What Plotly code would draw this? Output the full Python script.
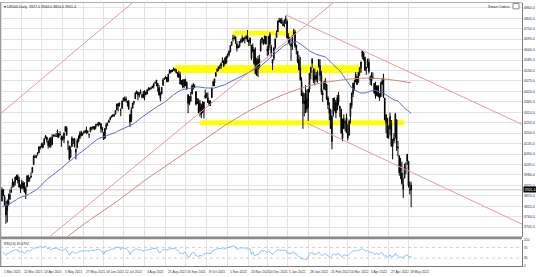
import numpy as np
import pandas as pd
import plotly.graph_objects as go

# ---------------- data ----------------
holidays = ["2021-04-02", "2021-05-31", "2021-07-05", "2021-09-06", "2021-11-25",
            "2021-12-24", "2022-01-17", "2022-02-21", "2022-04-15"]
dates = [d for d in pd.bdate_range("2021-03-01", "2022-05-20")
         if d.strftime("%Y-%m-%d") not in holidays]

opens = [
    3842, 3903, 3864, 3818, 3793, 3844, 3851, 3891, 3916, 3924, 3942, 3974, 3949, 3953, 3913, 3916, 3937, 3919, 3879, 3917, 3969, 3963, 3967,
    3992, 4034, 4075, 4074, 4089, 4097, 4124, 4130, 4141, 4140, 4175, 4179, 4159, 4128, 4170, 4139, 4185, 4188, 4185, 4206, 4199,
    4191, 4179, 4178, 4170, 4210, 4229, 4150, 4131, 4074, 4129, 4169, 4170, 4099, 4122, 4169, 4171, 4205, 4191, 4201, 4210,
    4216, 4206, 4191, 4207, 4229, 4234, 4233, 4229, 4243, 4248, 4255, 4249, 4216, 4204, 4173, 4224, 4243, 4256, 4274, 4285, 4293, 4290,
    4300, 4322, 4356, 4351, 4321, 4330, 4373, 4382, 4381, 4369, 4367, 4297, 4266, 4331, 4361, 4381, 4409, 4416, 4403, 4407, 4396,
    4406, 4392, 4416, 4408, 4429, 4437, 4437, 4442, 4447, 4465, 4461, 4462, 4440, 4383, 4406, 4451, 4484, 4490, 4493, 4474, 4514, 4530,
    4529, 4534, 4532, 4535, 4518, 4513, 4506, 4475, 4479, 4447, 4477, 4469, 4403, 4374, 4367, 4406, 4439, 4443, 4419, 4362, 4371,
    4317, 4348, 4310, 4320, 4384, 4407, 4386, 4368, 4358, 4387, 4448, 4464, 4498, 4525, 4533, 4547, 4553, 4579, 4580, 4563, 4572,
    4610, 4613, 4630, 4662, 4700, 4702, 4707, 4670, 4659, 4656, 4689, 4679, 4701, 4700, 4708, 4712, 4679, 4675, 4664, 4629, 4640,
    4602, 4504, 4589, 4548, 4632, 4690, 4691, 4687, 4710, 4642, 4637, 4720, 4653, 4587, 4594, 4650, 4703, 4733, 4795, 4788, 4795, 4776,
    4779, 4804, 4788, 4693, 4697, 4656, 4670, 4729, 4734, 4638, 4632, 4588, 4547, 4471, 4357, 4367, 4409, 4381, 4337, 4432,
    4519, 4567, 4535, 4482, 4505, 4480, 4548, 4554, 4506, 4412, 4430, 4456, 4456, 4385, 4332, 4324, 4155, 4298, 4354,
    4364, 4322, 4401, 4342, 4327, 4202, 4223, 4253, 4280, 4202, 4189, 4288, 4346, 4407, 4462, 4469, 4494, 4469, 4522, 4541, 4603, 4624, 4600,
    4540, 4547, 4573, 4495, 4475, 4494, 4462, 4437, 4398, 4449, 4385, 4391, 4473, 4490, 4385, 4255, 4278, 4186, 4222, 4254,
    4130, 4159, 4181, 4271, 4128, 4081, 4035, 3990, 3903, 3963, 4013, 4053, 4052, 3900, 3927,
]
highs = [
    3914, 3906, 3874, 3843, 3851, 3881, 3903, 3917, 3960, 3944, 3970, 3981, 3983, 3970, 3930, 3955, 3949, 3942, 3919, 3978, 3981, 3968, 3994,
    4021, 4084, 4087, 4084, 4098, 4129, 4131, 4149, 4151, 4173, 4191, 4180, 4160, 4175, 4180, 4194, 4194, 4193, 4201, 4219, 4199,
    4210, 4187, 4187, 4202, 4238, 4236, 4163, 4135, 4131, 4183, 4171, 4175, 4119, 4173, 4188, 4210, 4213, 4203, 4213, 4218,
    4234, 4215, 4197, 4234, 4232, 4237, 4238, 4249, 4248, 4256, 4258, 4252, 4233, 4204, 4226, 4255, 4256, 4272, 4287, 4293, 4301, 4302,
    4321, 4355, 4357, 4361, 4331, 4372, 4387, 4393, 4393, 4369, 4375, 4301, 4336, 4359, 4369, 4415, 4422, 4416, 4416, 4430, 4407,
    4422, 4424, 4417, 4430, 4441, 4440, 4445, 4449, 4461, 4468, 4480, 4462, 4454, 4418, 4443, 4489, 4493, 4501, 4496, 4513, 4537, 4532,
    4537, 4546, 4542, 4535, 4521, 4529, 4521, 4480, 4485, 4486, 4486, 4471, 4403, 4395, 4416, 4457, 4464, 4457, 4419, 4385, 4382,
    4375, 4356, 4369, 4365, 4429, 4413, 4415, 4375, 4373, 4440, 4476, 4487, 4520, 4540, 4550, 4560, 4572, 4599, 4584, 4598, 4608,
    4620, 4635, 4664, 4683, 4718, 4714, 4709, 4685, 4662, 4685, 4698, 4714, 4701, 4708, 4717, 4743, 4690, 4702, 4664, 4672, 4646,
    4652, 4595, 4608, 4613, 4695, 4705, 4695, 4713, 4711, 4660, 4712, 4731, 4666, 4587, 4651, 4697, 4741, 4792, 4807, 4804, 4808, 4787,
    4797, 4819, 4798, 4726, 4708, 4674, 4714, 4749, 4744, 4665, 4632, 4612, 4602, 4495, 4418, 4411, 4453, 4429, 4432, 4517,
    4546, 4595, 4542, 4540, 4522, 4531, 4590, 4588, 4527, 4426, 4473, 4490, 4457, 4395, 4363, 4327, 4294, 4385, 4388,
    4375, 4401, 4417, 4343, 4327, 4277, 4299, 4268, 4303, 4247, 4272, 4358, 4413, 4466, 4481, 4522, 4501, 4520, 4546, 4576, 4637, 4627, 4603,
    4548, 4593, 4593, 4504, 4521, 4520, 4464, 4471, 4453, 4453, 4411, 4471, 4489, 4513, 4386, 4300, 4278, 4241, 4308, 4269,
    4169, 4200, 4307, 4271, 4158, 4081, 4069, 4050, 3965, 4039, 4047, 4090, 4052, 3946, 3944,
]
lows = [
    3842, 3868, 3818, 3723, 3730, 3819, 3851, 3885, 3916, 3915, 3924, 3953, 3935, 3914, 3885, 3906, 3902, 3889, 3853, 3917, 3943, 3944, 3965,
    3992, 4034, 4069, 4068, 4082, 4095, 4114, 4124, 4120, 4140, 4171, 4150, 4119, 4126, 4123, 4138, 4182, 4181, 4181, 4177, 4174,
    4188, 4128, 4160, 4148, 4207, 4188, 4111, 4057, 4069, 4129, 4143, 4125, 4062, 4122, 4151, 4171, 4182, 4187, 4198, 4203,
    4197, 4198, 4174, 4207, 4216, 4219, 4219, 4220, 4237, 4235, 4241, 4203, 4204, 4164, 4173, 4218, 4241, 4256, 4267, 4281, 4284, 4288,
    4300, 4322, 4314, 4340, 4289, 4330, 4365, 4369, 4362, 4340, 4322, 4233, 4259, 4330, 4350, 4381, 4406, 4373, 4387, 4407, 4384,
    4384, 4373, 4401, 4404, 4424, 4425, 4430, 4436, 4435, 4461, 4447, 4418, 4398, 4368, 4406, 4451, 4482, 4485, 4468, 4470, 4514, 4515,
    4522, 4528, 4524, 4514, 4494, 4493, 4458, 4453, 4436, 4438, 4448, 4427, 4305, 4347, 4367, 4406, 4430, 4437, 4346, 4354, 4306,
    4288, 4279, 4305, 4278, 4384, 4386, 4360, 4342, 4343, 4387, 4448, 4448, 4497, 4524, 4528, 4538, 4538, 4570, 4551, 4563, 4566,
    4595, 4604, 4624, 4662, 4681, 4694, 4670, 4630, 4648, 4651, 4673, 4679, 4684, 4672, 4694, 4680, 4659, 4660, 4585, 4626, 4560,
    4511, 4504, 4495, 4541, 4632, 4674, 4666, 4671, 4667, 4606, 4612, 4651, 4600, 4532, 4583, 4644, 4703, 4733, 4781, 4778, 4775, 4765,
    4758, 4775, 4699, 4671, 4663, 4582, 4638, 4716, 4650, 4614, 4568, 4533, 4474, 4395, 4223, 4288, 4305, 4309, 4264, 4414,
    4483, 4544, 4464, 4451, 4471, 4465, 4548, 4475, 4402, 4365, 4430, 4425, 4374, 4327, 4268, 4222, 4115, 4287, 4315,
    4279, 4322, 4345, 4284, 4199, 4157, 4223, 4209, 4200, 4161, 4187, 4251, 4330, 4390, 4424, 4469, 4455, 4466, 4502, 4518, 4589, 4581, 4530,
    4507, 4546, 4514, 4453, 4450, 4487, 4408, 4382, 4395, 4392, 4370, 4391, 4455, 4385, 4267, 4200, 4175, 4170, 4189, 4128,
    4062, 4147, 4171, 4107, 4078, 3976, 3958, 3929, 3859, 3963, 3983, 4033, 3914, 3877, 3810,
]
closes = [
    3901.8, 3870.3, 3819.7, 3768.5, 3841.9, 3821.4, 3875.4, 3898.8, 3939.3, 3943.3, 3968.9, 3962.7, 3974.1, 3915.5, 3913.1, 3940.6, 3910.5, 3889.1, 3909.5, 3974.5, 3971.1, 3958.6, 3972.9,
    4019.9, 4077.9, 4073.9, 4080.0, 4097.2, 4128.8, 4128.0, 4141.6, 4124.7, 4170.4, 4185.5, 4163.3, 4134.9, 4173.4, 4135.0, 4180.2, 4187.6, 4186.7, 4183.2, 4211.5, 4181.2,
    4192.7, 4164.7, 4167.6, 4201.6, 4232.6, 4188.4, 4152.1, 4063.0, 4112.5, 4173.9, 4163.3, 4127.8, 4115.7, 4159.1, 4155.9, 4197.1, 4188.1, 4196.0, 4200.9, 4204.1,
    4202.0, 4208.1, 4192.9, 4229.9, 4226.5, 4227.3, 4219.6, 4239.2, 4247.4, 4255.2, 4246.6, 4223.7, 4221.9, 4166.5, 4224.8, 4246.4, 4241.8, 4266.5, 4280.7, 4290.6, 4291.8, 4297.5,
    4319.9, 4352.3, 4343.5, 4358.1, 4320.8, 4369.6, 4384.6, 4369.2, 4374.3, 4360.0, 4327.2, 4258.5, 4323.1, 4358.7, 4367.5, 4411.8, 4422.3, 4401.5, 4400.6, 4419.2, 4395.3,
    4387.2, 4423.2, 4402.7, 4429.1, 4436.5, 4432.4, 4436.8, 4447.7, 4460.8, 4468.0, 4479.7, 4448.1, 4400.3, 4405.8, 4441.7, 4479.5, 4486.2, 4496.2, 4470.0, 4509.4, 4528.8, 4522.7,
    4524.1, 4537.0, 4535.4, 4520.0, 4514.1, 4493.3, 4458.6, 4468.7, 4443.1, 4480.7, 4473.8, 4433.0, 4357.7, 4354.2, 4395.6, 4449.0, 4455.5, 4443.1, 4352.6, 4359.5, 4307.5,
    4357.0, 4300.5, 4345.7, 4363.6, 4399.8, 4391.3, 4361.2, 4350.7, 4363.8, 4438.3, 4471.4, 4486.5, 4519.6, 4536.2, 4549.8, 4544.9, 4566.5, 4574.8, 4551.7, 4596.4, 4605.4,
    4613.7, 4630.7, 4660.6, 4680.1, 4697.5, 4701.7, 4685.3, 4646.7, 4649.3, 4682.9, 4682.8, 4700.9, 4688.7, 4704.5, 4698.0, 4682.9, 4690.7, 4701.5, 4594.6, 4655.3, 4567.0,
    4513.0, 4577.1, 4538.4, 4591.7, 4686.8, 4701.2, 4667.5, 4712.0, 4669.0, 4634.1, 4709.9, 4668.7, 4620.6, 4568.0, 4649.2, 4696.6, 4725.8, 4791.2, 4786.4, 4793.1, 4778.7, 4766.2,
    4796.6, 4793.5, 4700.6, 4696.1, 4677.0, 4670.3, 4713.1, 4726.4, 4659.0, 4662.9, 4577.1, 4532.8, 4482.7, 4397.9, 4410.1, 4356.5, 4349.9, 4326.5, 4431.9, 4515.6,
    4546.5, 4589.4, 4477.4, 4500.5, 4483.9, 4521.5, 4587.2, 4504.1, 4418.6, 4401.7, 4471.1, 4475.0, 4380.3, 4348.9, 4304.8, 4225.5, 4288.7, 4384.7, 4373.9,
    4306.3, 4386.5, 4363.5, 4328.9, 4201.1, 4170.7, 4277.9, 4259.5, 4204.3, 4173.1, 4262.5, 4357.9, 4411.7, 4463.1, 4461.2, 4511.6, 4456.2, 4520.2, 4543.1, 4575.5, 4631.6, 4602.5, 4530.4,
    4545.9, 4582.6, 4525.1, 4481.2, 4500.2, 4488.3, 4412.5, 4397.5, 4446.6, 4392.6, 4391.7, 4462.2, 4459.5, 4393.7, 4271.8, 4296.1, 4175.2, 4184.0, 4287.5, 4131.9,
    4155.4, 4175.5, 4300.2, 4146.9, 4123.3, 3991.2, 4001.1, 3935.2, 3930.1, 4023.9, 4008.0, 4088.9, 3923.7, 3900.8, 3901.4,
]
# closes before the visible window (Dec 2020 - Feb 2021), used only to warm up the indicators
prior_closes = [
    3662.5, 3669.0, 3666.7, 3699.1, 3692.0, 3702.3, 3672.8, 3668.1, 3663.5, 3647.5, 3694.6, 3701.2, 3722.5, 3709.4, 3694.9, 3687.3, 3690.0, 3703.1, 3735.4, 3727.0, 3732.0, 3756.1,
    3700.7, 3726.9, 3748.1, 3803.8, 3824.7, 3799.6, 3801.2, 3809.8, 3795.5, 3768.3, 3798.9, 3851.9, 3853.1, 3841.5, 3855.4, 3849.6, 3750.8, 3787.4, 3714.2,
    3773.9, 3826.3, 3830.2, 3871.7, 3886.8, 3915.6, 3911.2, 3909.9, 3916.4, 3934.8, 3932.6, 3931.3, 3914.0, 3906.7, 3876.5, 3881.4, 3925.4, 3829.3, 3811.2,
]
# 200-period moving average
ma200_dates = ["2021-05-06", "2021-06-04", "2021-07-06", "2021-08-03", "2021-09-01", "2021-10-01",
               "2021-11-01", "2021-12-01", "2022-01-03", "2022-02-01", "2022-03-01", "2022-04-01",
               "2022-05-02", "2022-05-20"]
ma200_values = [3641, 3745, 3845, 3950, 4050, 4150, 4250, 4335, 4405, 4452, 4476, 4490, 4480, 4465]

# support / resistance zones
zone_start = ["2021-11-05", "2021-09-03", "2021-10-01"]
zone_end = ["2022-01-13", "2022-03-29", "2022-05-13"]
zone_low = [4714, 4517, 4242]
zone_high = [4739, 4558, 4268]

# trend lines: two anchors each (date, price)
trend_d1 = ["2021-03-01", "2021-04-21", "2022-01-04", "2022-01-27"]
trend_p1 = [4309, 3654, 4823, 4253]
trend_d2 = ["2021-05-04", "2021-09-30", "2022-05-20", "2022-05-20"]
trend_p2 = [4572, 4302, 4517, 3995]
trend_ray = [False, False, True, True]

price_ticks = [4860, 4805, 4750, 4695, 4640, 4585, 4530, 4475, 4420, 4365, 4310, 4255, 4200,
               4145, 4090, 4035, 3980, 3925, 3870, 3815, 3760, 3705]
time_ticks = ["2021-03-01", "2021-03-22", "2021-04-13", "2021-05-05", "2021-05-27", "2021-06-18",
              "2021-07-12", "2021-08-03", "2021-08-25", "2021-09-16", "2021-10-08", "2021-11-01",
              "2021-11-23", "2021-12-14", "2022-01-05", "2022-01-28", "2022-02-21", "2022-03-14",
              "2022-04-05", "2022-04-27", "2022-05-18"]

assert len(dates) == len(opens) == len(highs) == len(lows) == len(closes), (
    len(dates), len(opens), len(highs), len(lows), len(closes))

# ---------------- helpers ----------------
date_index = pd.DatetimeIndex(dates)


def bar_of(d):
    return int(date_index.searchsorted(pd.Timestamp(d)))


idx = list(range(len(closes)))
all_c = pd.Series(prior_closes + closes)
ma50 = all_c.rolling(50).mean().iloc[len(prior_closes):].tolist()
delta = all_c.diff()
gain = delta.clip(lower=0).ewm(alpha=1 / 14, adjust=False).mean()
loss = (-delta.clip(upper=0)).ewm(alpha=1 / 14, adjust=False).mean()
rsi = (100 - 100 / (1 + gain / loss)).iloc[len(prior_closes):].tolist()

W, H = 536, 277
XR = [-1.5, 394.0]
YR = [3655.4, 4885.5]
right_px = 522
main_top, main_bot = 1, 238
rsi_top, rsi_bot = 241, 268


def py(px):
    return (H - px) / H


FONT = "Liberation Sans, Arial, sans-serif"

fig = go.Figure()
fig.add_trace(go.Candlestick(
    x=idx, open=opens, high=highs, low=lows, close=closes,
    increasing=dict(line=dict(color="black", width=1), fillcolor="white"),
    decreasing=dict(line=dict(color="black", width=1), fillcolor="black"),
    hoverinfo="skip", xaxis="x", yaxis="y"))
fig.add_trace(go.Scatter(x=idx, y=ma50, mode="lines", line=dict(color="#5b6cc6", width=1),
                         hoverinfo="skip", xaxis="x", yaxis="y"))
fig.add_trace(go.Scatter(x=[bar_of(d) for d in ma200_dates], y=ma200_values, mode="lines",
                         line=dict(color="#c98a7c", width=1, shape="spline"),
                         hoverinfo="skip", xaxis="x", yaxis="y"))
for d1, p1, d2, p2, ray in zip(trend_d1, trend_p1, trend_d2, trend_p2, trend_ray):
    b1, b2 = bar_of(d1), bar_of(d2)
    slope = (p2 - p1) / (b2 - b1)
    xs = [b1 if ray else XR[0], XR[1]]
    ys = [p1 + slope * (x - b1) for x in xs]
    fig.add_trace(go.Scatter(x=xs, y=ys, mode="lines", line=dict(color="#e39a9a", width=1),
                             hoverinfo="skip", xaxis="x", yaxis="y"))
fig.add_trace(go.Scatter(x=idx, y=rsi, mode="lines", line=dict(color="#8dc3ea", width=1),
                         hoverinfo="skip", xaxis="x2", yaxis="y2"))

shapes = []
for s, e, lo, hi in zip(zone_start, zone_end, zone_low, zone_high):
    shapes.append(dict(type="rect", xref="x", yref="y", x0=bar_of(s), x1=bar_of(e), y0=lo, y1=hi,
                       fillcolor="#ffff00", line=dict(width=0), layer="between"))
shapes.append(dict(type="line", xref="x", yref="y", x0=XR[0], x1=XR[1], y0=closes[-1], y1=closes[-1],
                   line=dict(color="#c8c8c8", width=1), layer="between"))
for lv in (70, 30):
    shapes.append(dict(type="line", xref="x2", yref="y2", x0=XR[0], x1=XR[1], y0=lv, y1=lv,
                       line=dict(color="#d0d0d0", width=1, dash="dot"), layer="between"))
# panel separator and frame
shapes.append(dict(type="rect", xref="paper", yref="paper", x0=0, x1=right_px / W,
                   y0=py(240.8), y1=py(238), fillcolor="#8a8a8a", line=dict(width=0)))
shapes.append(dict(type="line", xref="paper", yref="paper", x0=0.5 / W, x1=0.5 / W, y0=py(rsi_bot), y1=1,
                   line=dict(color="#9a9a9a", width=1)))
shapes.append(dict(type="line", xref="paper", yref="paper", x0=0, x1=right_px / W, y0=py(0.5), y1=py(0.5),
                   line=dict(color="#b0b0b0", width=1)))
# small icon of the "Smart Orders" panel
shapes.append(dict(type="rect", xref="paper", yref="paper", x0=513 / W, x1=519 / W, y0=py(7), y1=py(1.5),
                   fillcolor="white", line=dict(color="#707070", width=0.8)))

ann = []
ann.append(dict(xref="paper", yref="paper", x=2 / W, y=py(1.5), xanchor="left", yanchor="top",
                text="▾ US500,Daily  %.1f %.1f %.1f %.1f" % (opens[-1], highs[-1], lows[-1], closes[-1]),
                showarrow=False, font=dict(size=3.6, color="#202020", family=FONT)))
ann.append(dict(xref="paper", yref="paper", x=512 / W, y=py(1.5), xanchor="right", yanchor="top",
                text="Smart Orders", showarrow=False, font=dict(size=3.6, color="#303030", family=FONT)))
ann.append(dict(xref="paper", yref="y", x=(right_px + 1) / W, y=closes[-1], xanchor="left", yanchor="middle",
                text="%.1f" % closes[-1], showarrow=False, bgcolor="black", borderpad=0.5,
                font=dict(size=3.6, color="white", family=FONT)))
ann.append(dict(xref="paper", yref="paper", x=2 / W, y=py(rsi_top + 0.5), xanchor="left", yanchor="top",
                text="RSI(14) %.4f" % rsi[-1], showarrow=False, font=dict(size=3.4, color="#202020", family=FONT)))
tick_bars = [bar_of(t) for t in time_ticks]
for t, b in zip(time_ticks, tick_bars):
    ann.append(dict(xref="x2", yref="paper", x=b, y=py(269.5), xanchor="left", yanchor="top",
                    text=pd.Timestamp(t).strftime("%-d %b %Y"), showarrow=False,
                    font=dict(size=3.3, color="#303030", family=FONT)))

grid = "#e2e2e2"
fig.update_layout(
    width=W, height=H, margin=dict(l=0, r=0, t=0, b=0),
    paper_bgcolor="white", plot_bgcolor="white", showlegend=False, hovermode=False,
    shapes=shapes, annotations=ann,
    xaxis=dict(domain=[0, right_px / W], range=XR, anchor="y", tickvals=tick_bars,
               showticklabels=False, showgrid=True, gridcolor=grid, gridwidth=1, zeroline=False,
               rangeslider=dict(visible=False), ticks=""),
    yaxis=dict(domain=[py(main_bot), py(main_top)], range=YR, side="right", anchor="x",
               tickvals=price_ticks, ticktext=["%.1f" % v for v in price_ticks],
               tickfont=dict(size=3.6, color="#303030", family=FONT), showgrid=True, gridcolor=grid,
               gridwidth=1, zeroline=False, showline=True, linecolor="#7a7a7a", linewidth=1, ticks=""),
    xaxis2=dict(domain=[0, right_px / W], range=XR, anchor="y2", tickvals=tick_bars,
                showticklabels=False, showgrid=True, gridcolor=grid, gridwidth=1, zeroline=False,
                showline=True, linecolor="#7a7a7a", linewidth=1, ticks=""),
    yaxis2=dict(domain=[py(rsi_bot), py(rsi_top)], range=[0, 100], side="right", anchor="x2",
                tickvals=[0, 30, 70, 100], ticktext=["0", "30", "70", "100"],
                tickfont=dict(size=3.4, color="#303030", family=FONT), showgrid=False, zeroline=False,
                showline=True, linecolor="#7a7a7a", linewidth=1, ticks=""),
)

fig.write_html("out.html")
